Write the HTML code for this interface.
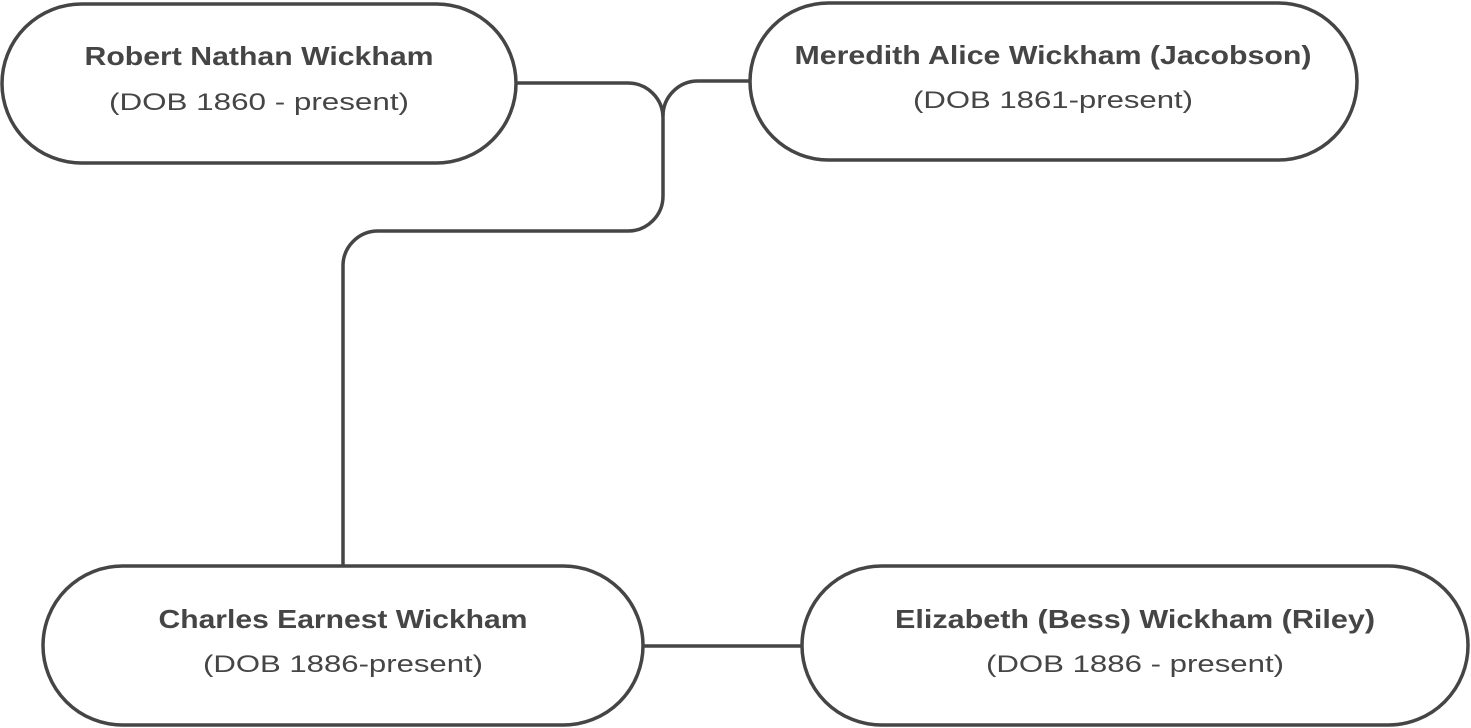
<!DOCTYPE html>
<html><head><style>
body{margin:0;background:#fff;}
svg{display:block}
.b{font-family:"Liberation Sans",Arial,sans-serif;font-weight:bold;font-size:26px;fill:#454545}
.n{font-family:"Liberation Sans",Arial,sans-serif;font-size:24px;fill:#454545}
</style></head><body>
<svg width="1471" height="728" viewBox="0 0 1471 728" xmlns="http://www.w3.org/2000/svg">
<g fill="none" stroke="#454545" stroke-width="3.5">
<rect x="2" y="4" width="514" height="159" rx="79.5" fill="#fff"/>
<rect x="750" y="3" width="607" height="157" rx="78.5" fill="#fff"/>
<rect x="43" y="566" width="600" height="159" rx="79.5" fill="#fff"/>
<rect x="802" y="566" width="666" height="159" rx="79.5" fill="#fff"/>
<path d="M516,83 H628 A35,35 0 0 1 663,118 V196 A35,35 0 0 1 628,231 H378 A35,35 0 0 0 343,266 V565"/>
<path d="M750,81 H698 A35,35 0 0 0 663,116"/>
<path d="M643,646 H802"/>
</g>
<text class="b" x="259" y="65" text-anchor="middle" textLength="349" lengthAdjust="spacingAndGlyphs">Robert Nathan Wickham</text>
<text class="n" x="259" y="110" text-anchor="middle" textLength="300" lengthAdjust="spacingAndGlyphs">(DOB 1860 - present)</text>
<text class="b" x="1053" y="64" text-anchor="middle" textLength="517" lengthAdjust="spacingAndGlyphs">Meredith Alice Wickham (Jacobson)</text>
<text class="n" x="1053" y="108" text-anchor="middle" textLength="280" lengthAdjust="spacingAndGlyphs">(DOB 1861-present)</text>
<text class="b" x="343" y="628" text-anchor="middle" textLength="369" lengthAdjust="spacingAndGlyphs">Charles Earnest Wickham</text>
<text class="n" x="343" y="672" text-anchor="middle" textLength="280" lengthAdjust="spacingAndGlyphs">(DOB 1886-present)</text>
<text class="b" x="1135" y="628" text-anchor="middle" textLength="480" lengthAdjust="spacingAndGlyphs">Elizabeth (Bess) Wickham (Riley)</text>
<text class="n" x="1135" y="672" text-anchor="middle" textLength="298" lengthAdjust="spacingAndGlyphs">(DOB 1886 - present)</text>
</svg>
</body></html>
